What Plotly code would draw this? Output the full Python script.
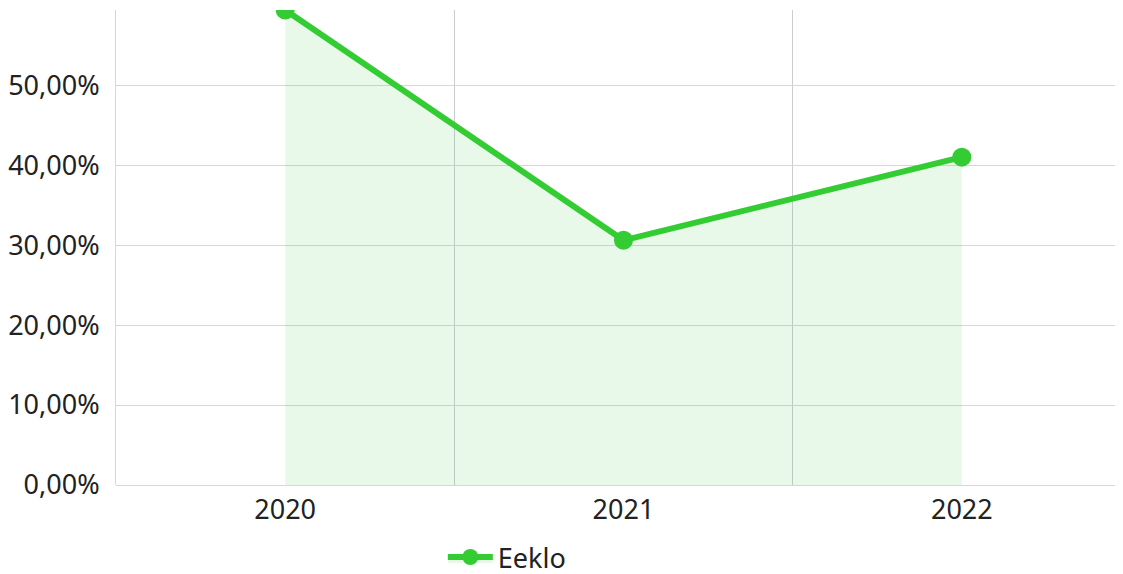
import plotly.graph_objects as go

years = ["2020", "2021", "2022"]
eeklo = [59.4, 30.6, 41.0]
series_name = "Eeklo"
y_ticks = [0, 10, 20, 30, 40, 50]
y_labels = ["0,00%", "10,00%", "20,00%", "30,00%", "40,00%", "50,00%"]

GREEN = "#33cc33"
GRID = "#d3d7e0"

fig = go.Figure(
    go.Scatter(
        x = years,
        y = eeklo,
        name = series_name,
        mode = "lines+markers",
        line = dict(color = GREEN, width = 6),
        marker = dict(color = GREEN, size = 19),
        fill = "tozeroy",
        fillcolor = "rgba(51,204,51,0.11)",
        )
    )

# margins tuned by eye against the page offset
fig.update_layout(
    width = 1123,
    height = 574,
    margin = dict(l = 106, r = 0, t = 2, b = 94),
    paper_bgcolor = "white",
    plot_bgcolor = "white",
    font = dict(family = "Noto Sans, Open Sans, sans-serif", size = 27, color = "#222222"),
    showlegend = True,
    legend = dict(
        orientation = "h",
        x = 0.322,
        y = -0.101,
        xanchor = "left",
        yanchor = "top",
        itemwidth = 45,
        font = dict(size = 27),
        ),
    xaxis = dict(
        type = "category",
        tickson = "boundaries",
        showgrid = True,
        gridcolor = "#c9cdd3",
        gridwidth = 1,
        ticks = "",
        showline = False,
        zeroline = False,
        range = [-0.5, 2.5],
        ticklabelstandoff = 6,
        ),
    yaxis = dict(
        range = [0, 59.4],
        tickvals = y_ticks,
        ticktext = y_labels,
        showgrid = True,
        gridcolor = GRID,
        gridwidth = 1,
        zeroline = True,
        zerolinecolor = GRID,
        zerolinewidth = 1,
        showline = True,
        linecolor = GRID,
        linewidth = 1,
        ticks = "",
        ticklabelstandoff = 10,
        ),
    )

fig.write_html("out.html")
